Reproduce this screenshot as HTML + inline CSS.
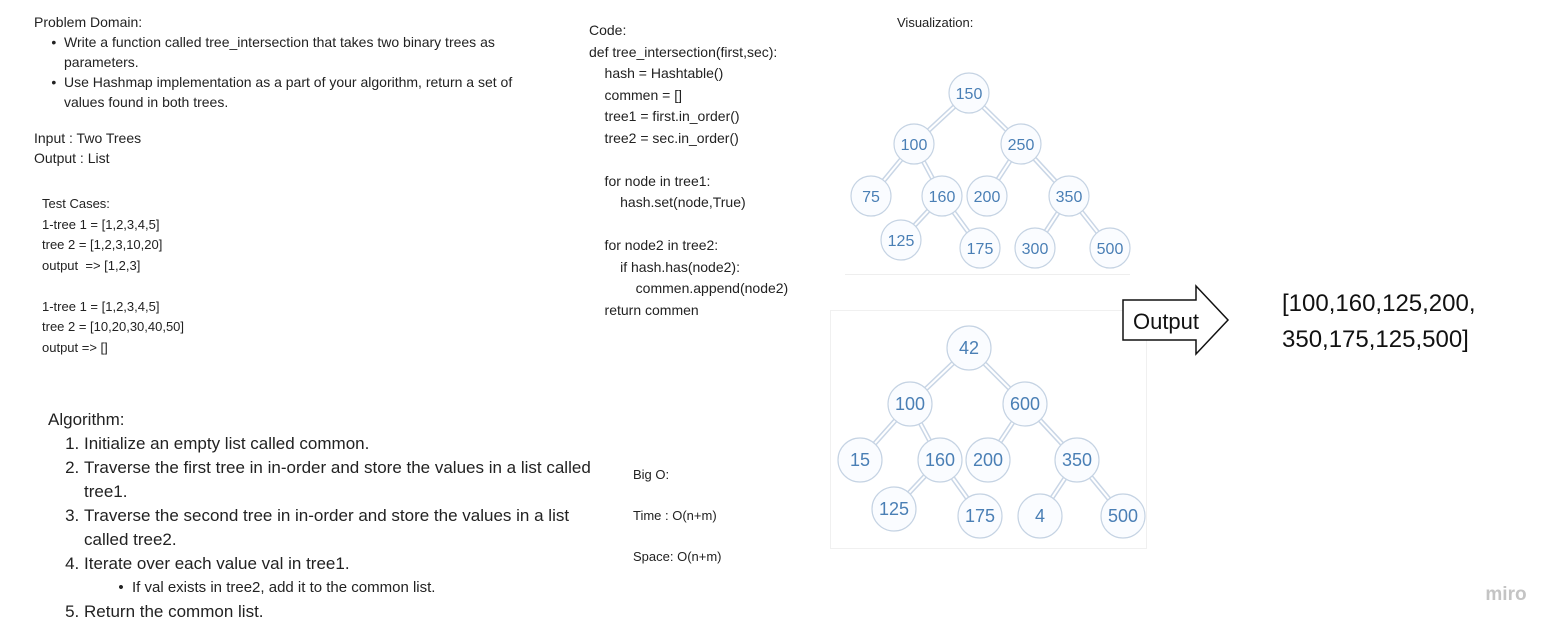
<!DOCTYPE html>
<html><head><style>
body{margin:0;width:1567px;height:637px;background:#fff;font-family:"Liberation Sans",sans-serif;color:#222;position:relative;overflow:hidden}
.t{position:absolute;font-size:13px;line-height:20.5px;white-space:pre}
ul{margin:0;padding-left:30px}
.a{position:absolute;font-size:17px;line-height:24px}
</style></head><body>
<div class="t" style="left:34px;top:12px;width:520px;white-space:normal;font-size:14px;line-height:20px">Problem Domain:
<ul style="list-style:'•  ';padding-left:30px">
<li>Write a function called tree_intersection that takes two binary trees as parameters.</li>
<li>Use Hashmap implementation as a part of your algorithm, return a set of values found in both trees.</li></ul>
<div style="margin-top:16px">Input : Two Trees<br>Output : List</div></div>
<div class="t" style="left:42px;top:194px">Test Cases:
1-tree 1 = [1,2,3,4,5]
tree 2 = [1,2,3,10,20]
output  =&gt; [1,2,3]

1-tree 1 = [1,2,3,4,5]
tree 2 = [10,20,30,40,50]
output =&gt; []</div>
<div class="a" style="left:48px;top:408px;width:560px">Algorithm:
<ol style="margin:0;padding-left:36px">
<li>Initialize an empty list called common.</li>
<li>Traverse the first tree in in-order and store the values in a list called tree1.</li>
<li>Traverse the second tree in in-order and store the values in a list called tree2.</li>
<li>Iterate over each value val in tree1.<ul style="list-style:'•  ';padding-left:48px;font-size:15px"><li>If val exists in tree2, add it to the common list.</li></ul></li>
<li>Return the common list.</li></ol></div>
<div class="t" style="left:589px;top:20px;font-size:14px;line-height:21.5px">Code:
def tree_intersection(first,sec):
    hash = Hashtable()
    commen = []
    tree1 = first.in_order()
    tree2 = sec.in_order()

    for node in tree1:
        hash.set(node,True)

    for node2 in tree2:
        if hash.has(node2):
            commen.append(node2)
    return commen</div>
<div class="t" style="left:633px;top:465px">Big O:

Time : O(n+m)

Space: O(n+m)</div>
<div class="t" style="left:897px;top:13px">Visualization:</div>
<div style="position:absolute;left:830px;top:310px;width:315px;height:237px;border:1px solid #f0f0f0"></div>
<div style="position:absolute;left:845px;top:274px;width:285px;height:1px;background:#eee"></div>
<svg width="1567" height="637" style="position:absolute;left:0;top:0" font-family="Liberation Sans" font-size="16" fill="#4a7fb5" text-anchor="middle">
<g stroke="#c9d6e6" stroke-width="5" fill="none">
<path d="M969 93L914 144M969 93L1021 144M914 144L871 196M914 144L942 196M1021 144L987 196M1021 144L1069 196M942 196L901 240M942 196L980 248M1069 196L1035 248M1069 196L1110 248"/>
<path d="M969 348L910 404M969 348L1025 404M910 404L860 460M910 404L940 460M1025 404L988 460M1025 404L1077 460M940 460L894 509M940 460L980 516M1077 460L1040 516M1077 460L1123 516"/>
</g>
<g stroke="#fff" stroke-width="2" fill="none">
<path d="M969 93L914 144M969 93L1021 144M914 144L871 196M914 144L942 196M1021 144L987 196M1021 144L1069 196M942 196L901 240M942 196L980 248M1069 196L1035 248M1069 196L1110 248"/>
<path d="M969 348L910 404M969 348L1025 404M910 404L860 460M910 404L940 460M1025 404L988 460M1025 404L1077 460M940 460L894 509M940 460L980 516M1077 460L1040 516M1077 460L1123 516"/>
</g>
<g stroke="#c5d3e3" stroke-width="1.2" fill="#fafcff">
<circle cx="969" cy="93" r="20"/><circle cx="914" cy="144" r="20"/><circle cx="1021" cy="144" r="20"/><circle cx="871" cy="196" r="20"/><circle cx="942" cy="196" r="20"/><circle cx="987" cy="196" r="20"/><circle cx="1069" cy="196" r="20"/><circle cx="901" cy="240" r="20"/><circle cx="980" cy="248" r="20"/><circle cx="1035" cy="248" r="20"/><circle cx="1110" cy="248" r="20"/>
<circle cx="969" cy="348" r="22"/><circle cx="910" cy="404" r="22"/><circle cx="1025" cy="404" r="22"/><circle cx="860" cy="460" r="22"/><circle cx="940" cy="460" r="22"/><circle cx="988" cy="460" r="22"/><circle cx="1077" cy="460" r="22"/><circle cx="894" cy="509" r="22"/><circle cx="980" cy="516" r="22"/><circle cx="1040" cy="516" r="22"/><circle cx="1123" cy="516" r="22"/>
</g>
<g>
<text x="969" y="99">150</text><text x="914" y="150">100</text><text x="1021" y="150">250</text><text x="871" y="202">75</text><text x="942" y="202">160</text><text x="987" y="202">200</text><text x="1069" y="202">350</text><text x="901" y="246">125</text><text x="980" y="254">175</text><text x="1035" y="254">300</text><text x="1110" y="254">500</text>
</g>
<g font-size="18">
<text x="969" y="354">42</text><text x="910" y="410">100</text><text x="1025" y="410">600</text><text x="860" y="466">15</text><text x="940" y="466">160</text><text x="988" y="466">200</text><text x="1077" y="466">350</text><text x="894" y="515">125</text><text x="980" y="522">175</text><text x="1040" y="522">4</text><text x="1123" y="522">500</text>
</g>
<path d="M1123 300H1196V286L1228 320L1196 354V340H1123Z" fill="#fff" stroke="#111" stroke-width="1.5"/>
<text x="1166" y="329" fill="#111" font-size="22">Output</text>
<text x="1282" y="311" fill="#111" font-size="24" text-anchor="start">[100,160,125,200,</text>
<text x="1282" y="347" fill="#111" font-size="24" text-anchor="start">350,175,125,500]</text>
<text x="1506" y="600" fill="#c4c4c4" font-size="19" font-weight="bold">miro</text>
</svg>
</body></html>
